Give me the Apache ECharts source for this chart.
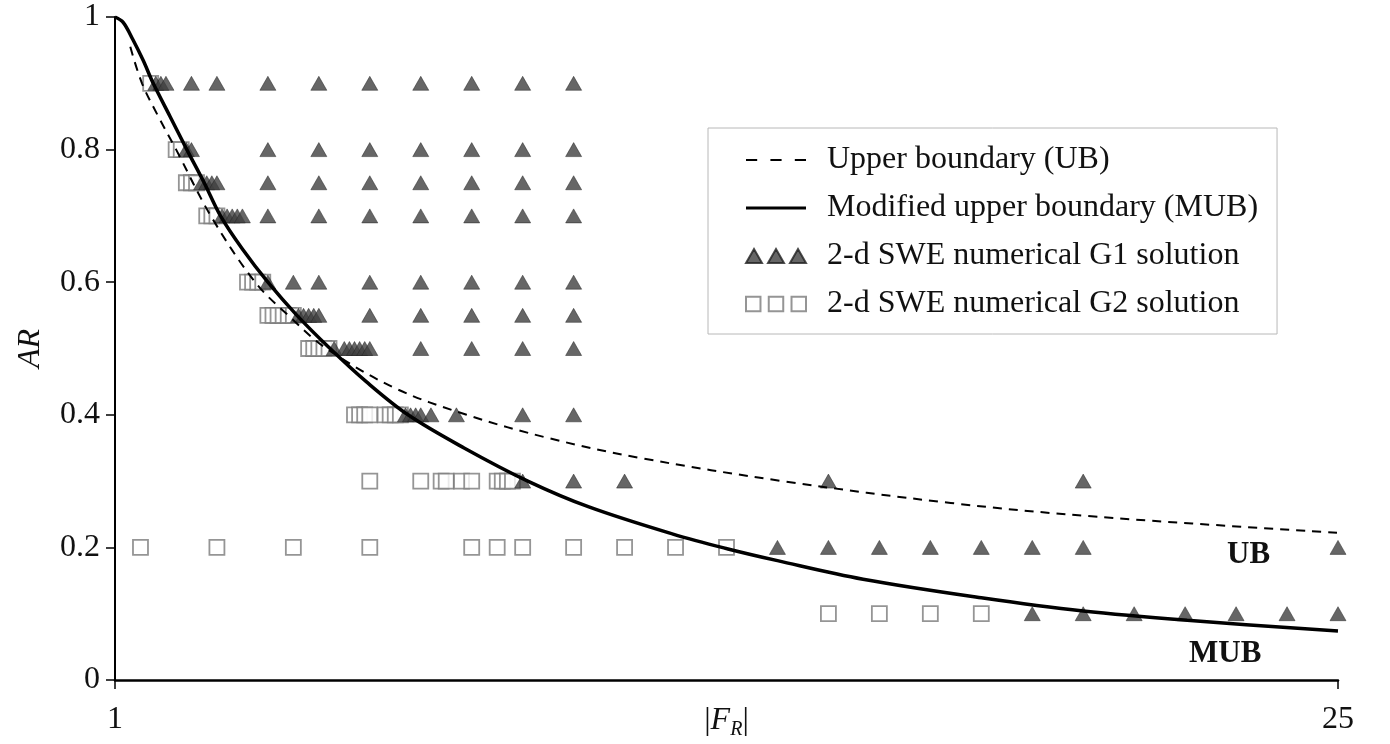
<!DOCTYPE html>
<html>
<head>
<meta charset="utf-8">
<script src="https://cdn.jsdelivr.net/npm/echarts@6/dist/echarts.min.js"></script>
<style>
  html, body { margin: 0; padding: 0; background: #fff; }
  #chart { width: 1390px; height: 744px; }
</style>
</head>
<body>
<div id="chart"></div>
<script>
// Upper boundary (UB) curve, [|F_R|, AR]
const ubCurve = [
  [1.3, 0.955], [1.53, 0.9], [1.85, 0.85], [2.2, 0.8], [2.88, 0.7], [3.75, 0.6],
  [4.4, 0.55], [5.15, 0.5], [6.5, 0.44], [7.9, 0.4], [9.5, 0.365], [11.3, 0.335],
  [14.1, 0.3], [17.4, 0.267], [20.3, 0.246], [25, 0.222]
];

// Modified upper boundary (MUB) curve, [|F_R|, AR]
const mubCurve = [
  [1, 1], [1.16, 0.992], [1.35, 0.966], [1.55, 0.935], [1.75, 0.9], [2.08, 0.85],
  [2.41, 0.8], [2.75, 0.75], [3.07, 0.7], [3.5, 0.65], [4.0, 0.6], [4.57, 0.55],
  [5.22, 0.5], [5.93, 0.45], [6.75, 0.4], [7.85, 0.35], [9.1, 0.3], [10.3, 0.261],
  [11.95, 0.22], [13.01, 0.198], [14, 0.18], [15.68, 0.152], [18, 0.124],
  [20, 0.104], [22.04, 0.09], [25, 0.074]
];

// 2-d SWE numerical G1 solution, [|F_R|, AR]
const g1Points = [
  [1.8, 0.9], [1.9, 0.9], [2.0, 0.9], [2.5, 0.9], [3, 0.9], [4, 0.9], [5, 0.9], [6, 0.9], [7, 0.9], [8, 0.9], [9, 0.9], [10, 0.9],
  [2.4, 0.8], [2.5, 0.8], [4, 0.8], [5, 0.8], [6, 0.8], [7, 0.8], [8, 0.8], [9, 0.8], [10, 0.8],
  [2.7, 0.75], [2.8, 0.75], [2.9, 0.75], [3.0, 0.75], [4, 0.75], [5, 0.75], [6, 0.75], [7, 0.75], [8, 0.75], [9, 0.75], [10, 0.75],
  [3.1, 0.7], [3.2, 0.7], [3.3, 0.7], [3.4, 0.7], [3.5, 0.7], [4, 0.7], [5, 0.7], [6, 0.7], [7, 0.7], [8, 0.7], [9, 0.7], [10, 0.7],
  [4.0, 0.6], [4.5, 0.6], [5, 0.6], [6, 0.6], [7, 0.6], [8, 0.6], [9, 0.6], [10, 0.6],
  [4.6, 0.55], [4.7, 0.55], [4.8, 0.55], [4.9, 0.55], [5.0, 0.55], [6, 0.55], [7, 0.55], [8, 0.55], [9, 0.55], [10, 0.55],
  [5.3, 0.5], [5.5, 0.5], [5.6, 0.5], [5.7, 0.5], [5.8, 0.5], [5.9, 0.5], [6.0, 0.5], [7, 0.5], [8, 0.5], [9, 0.5], [10, 0.5],
  [6.7, 0.4], [6.8, 0.4], [6.9, 0.4], [7.0, 0.4], [7.2, 0.4], [7.7, 0.4], [9, 0.4], [10, 0.4],
  [9, 0.3], [10, 0.3], [11, 0.3], [15, 0.3], [20, 0.3],
  [14, 0.2], [15, 0.2], [16, 0.2], [17, 0.2], [18, 0.2], [19, 0.2], [20, 0.2], [25, 0.2],
  [19, 0.1], [20, 0.1], [21, 0.1], [22, 0.1], [23, 0.1], [24, 0.1], [25, 0.1]
];

// 2-d SWE numerical G2 solution, [|F_R|, AR]
const g2Points = [
  [1.7, 0.9],
  [2.2, 0.8], [2.3, 0.8],
  [2.4, 0.75], [2.5, 0.75], [2.6, 0.75],
  [2.8, 0.7], [2.9, 0.7], [3.0, 0.7],
  [3.6, 0.6], [3.7, 0.6], [3.8, 0.6], [3.9, 0.6],
  [4.0, 0.55], [4.1, 0.55], [4.2, 0.55], [4.3, 0.55], [4.4, 0.55], [4.5, 0.55],
  [4.8, 0.5], [4.9, 0.5], [5.0, 0.5], [5.1, 0.5], [5.2, 0.5],
  [5.7, 0.4], [5.8, 0.4], [5.9, 0.4], [6.0, 0.4], [6.3, 0.4], [6.4, 0.4], [6.5, 0.4], [6.6, 0.4],
  [6, 0.3], [7, 0.3], [7.4, 0.3], [7.5, 0.3], [7.8, 0.3], [8.0, 0.3], [8.5, 0.3], [8.6, 0.3], [8.7, 0.3], [8.8, 0.3],
  [1.5, 0.2], [3, 0.2], [4.5, 0.2], [6, 0.2], [8, 0.2], [8.5, 0.2], [9, 0.2], [10, 0.2], [11, 0.2], [12, 0.2], [13, 0.2],
  [15, 0.1], [16, 0.1], [17, 0.1], [18, 0.1]
];

const xTicks = [1, 25];
const seriesNames = [
  'Upper boundary (UB)',
  'Modified upper boundary (MUB)',
  '2-d SWE numerical G1 solution',
  '2-d SWE numerical G2 solution'
];

const FONT = '"Liberation Serif", "Times New Roman", serif';
const chart = echarts.init(document.getElementById('chart'), null, { renderer: 'canvas' });

// legend keys: three dashes, a solid stroke, three triangles, three squares
const dashIcon = 'path://M0,0 L11,0 L11,2 L0,2 Z M24,0 L35,0 L35,2 L24,2 Z M48,0 L59,0 L59,2 L48,2 Z';
const solidIcon = 'path://M0,0 L60,0 L60,3 L0,3 Z';
const triIcon = 'path://M0,14 L8,0 L16,14 Z M22,14 L30,0 L38,14 Z M44,14 L52,0 L60,14 Z';
const sqIcon = 'path://M1,1 L15,1 L15,15 L1,15 Z M23,1 L37,1 L37,15 L23,15 Z M45,1 L59,1 L59,15 L45,15 Z';

chart.setOption({
  animation: false,
  backgroundColor: '#ffffff',
  textStyle: { fontFamily: FONT },
  grid: { left: 115, right: 52, top: 17, bottom: 64, outerBoundsMode: 'none' },
  legend: {
    orient: 'vertical',
    left: 708,
    top: 128,
    padding: [16, 19, 14, 37],
    itemWidth: 60,
    itemHeight: 16,
    itemGap: 16,
    backgroundColor: '#ffffff',
    borderColor: '#b8b8b8',
    borderWidth: 1,
    data: [
      { name: seriesNames[0], icon: dashIcon },
      { name: seriesNames[1], icon: solidIcon },
      { name: seriesNames[2], icon: triIcon },
      { name: seriesNames[3], icon: sqIcon }
    ],
    textStyle: {
      fontFamily: FONT,
      fontSize: 32,
      color: '#111',
      lineHeight: 30,
      padding: [0, 0, 0, 16]
    }
  },
  xAxis: {
    type: 'value',
    min: 1,
    max: 25,
    name: '|{f|F}{sub|R}|',
    nameLocation: 'middle',
    nameGap: 22,
    nameMoveOverlap: false,
    nameTextStyle: {
      fontFamily: FONT,
      fontSize: 32,
      color: '#111',
      verticalAlign: 'top',
      rich: {
        f: { fontFamily: FONT, fontSize: 32, fontStyle: 'italic', color: '#111' },
        sub: { fontFamily: FONT, fontSize: 20, fontStyle: 'italic', color: '#111', padding: [18, 0, 0, 0] }
      }
    },
    axisLine: { onZero: false, lineStyle: { color: '#000', width: 2.5 } },
    axisTick: { show: true, length: 9, customValues: xTicks, lineStyle: { color: '#000', width: 1.5 } },
    axisLabel: {
      customValues: xTicks,
      margin: 24,
      fontFamily: FONT,
      fontSize: 32,
      color: '#111'
    },
    splitLine: { show: false }
  },
  yAxis: {
    type: 'value',
    min: 0,
    max: 1,
    interval: 0.2,
    name: 'AR',
    nameLocation: 'middle',
    nameGap: 68,
    nameRotate: 90,
    nameMoveOverlap: false,
    nameTextStyle: { fontFamily: FONT, fontSize: 32, fontStyle: 'italic', color: '#111' },
    axisLine: { onZero: false, lineStyle: { color: '#000', width: 2 } },
    axisTick: { show: true, length: 9, lineStyle: { color: '#000', width: 1.5 } },
    axisLabel: { margin: 15, fontFamily: FONT, fontSize: 32, color: '#111' },
    splitLine: { show: false }
  },
  graphic: [
    { type: 'text', left: 1227, top: 539, style: { text: 'UB', font: 'bold 31px ' + FONT, fill: '#111' } },
    { type: 'text', left: 1189, top: 638, style: { text: 'MUB', font: 'bold 31px ' + FONT, fill: '#111' } }
  ],
  series: [
    {
      name: seriesNames[3],
      type: 'scatter',
      data: g2Points,
      symbol: 'rect',
      symbolSize: 15,
      z: 2,
      itemStyle: { color: '#ffffff', borderColor: '#7a7a7a', borderWidth: 1.8 }
    },
    {
      name: seriesNames[2],
      type: 'scatter',
      data: g1Points,
      symbol: 'triangle',
      symbolSize: [16, 14],
      z: 3,
      itemStyle: { color: '#404040', borderColor: '#222', borderWidth: 0.6 }
    },
    {
      name: seriesNames[0],
      type: 'line',
      data: ubCurve,
      smooth: 0.35,
      symbol: 'none',
      z: 4,
      lineStyle: { color: '#000', width: 2, type: [9, 7] },
      itemStyle: { color: '#000' }
    },
    {
      name: seriesNames[1],
      type: 'line',
      data: mubCurve,
      smooth: 0.35,
      symbol: 'none',
      z: 5,
      lineStyle: { color: '#000', width: 3.5 },
      itemStyle: { color: '#000' }
    }
  ]
});
</script>
</body>
</html>
